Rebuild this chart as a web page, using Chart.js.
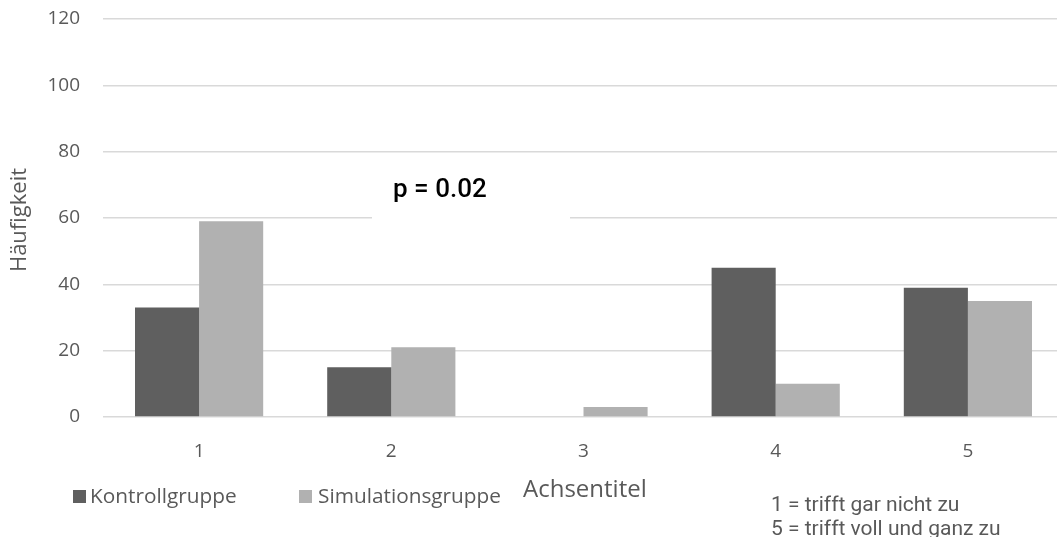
<!DOCTYPE html>
<html>
<head>
<meta charset="utf-8">
<script src="https://cdn.jsdelivr.net/npm/chart.js@4"></script>
<style>
    html, body { margin: 0; padding: 0; background: #fff; overflow: hidden; }
    #wrap { position: relative; width: 1064px; height: 537px; }
</style>
</head>
<body>
<div id="wrap"><canvas id="barChart" width="1064" height="537"></canvas></div>
<script>
// Chart data
const categories = ['1', '2', '3', '4', '5'];
const kontrollgruppe = [33, 15, 0, 45, 39];
const simulationsgruppe = [59, 21, 3, 10, 35];
const yTicks = [0, 20, 40, 60, 80, 100, 120];

const textColor = '#595959';
const gridColor = '#d9d9d9';

// Titles, legend and notes drawn by hand (Excel-style layout)
const overlayPlugin = {
    id: 'overlay',
    afterDraw(chart) {
        const ctx = chart.ctx;
        const ds = chart.data.datasets;
        ctx.save();

        // p-value text box
        ctx.fillStyle = '#ffffff';
        ctx.fillRect(372, 160, 198, 60);
        ctx.fillStyle = '#000000';
        ctx.font = '500 26px Roboto';
        ctx.textBaseline = 'middle';
        ctx.textAlign = 'left';
        ctx.fillText('p = 0.02', 393, 190);

        // y axis title
        ctx.save();
        ctx.translate(20, 220);
        ctx.rotate(-Math.PI / 2);
        ctx.fillStyle = textColor;
        ctx.font = '22px "Open Sans"';
        ctx.textAlign = 'center';
        ctx.fillText('Häufigkeit', 0, 0);
        ctx.restore();

        // x axis title
        ctx.fillStyle = textColor;
        ctx.font = '24px "Open Sans"';
        ctx.fillText('Achsentitel', 523, 490);

        // legend
        const legendItems = [[73, 90], [299, 318]];
        ctx.font = '20.8px "Open Sans"';
        ds.forEach((d, i) => {
            const [bx, tx] = legendItems[i];
            ctx.fillStyle = d.backgroundColor;
            ctx.fillRect(bx, 490, 13, 13);
            ctx.fillStyle = textColor;
            ctx.fillText(d.label, tx, 497);
        });

        // scale note
        ctx.font = '21px Roboto';
        ctx.fillText('1 = trifft gar nicht zu', 771, 506);
        ctx.fillText('5 = trifft voll und ganz zu', 771, 530);

        ctx.restore();
    }
};

const ctx = document.getElementById('barChart').getContext('2d');
new Chart(ctx, {
    type: 'bar',
    data: {
        labels: categories,
        datasets: [
            {
                label: 'Kontrollgruppe',
                data: kontrollgruppe,
                backgroundColor: '#5f5f5f',
                borderWidth: 0
            },
            {
                label: 'Simulationsgruppe',
                data: simulationsgruppe,
                backgroundColor: '#b1b1b1',
                borderWidth: 0
            }
        ]
    },
    options: {
        responsive: false,
        animation: false,
        devicePixelRatio: 1,
        layout: { padding: { top: 19, left: 0, right: 0, bottom: 0 } },
        datasets: {
            bar: { categoryPercentage: 0.667, barPercentage: 1.0 }
        },
        scales: {
            x: {
                grid: { display: false },
                border: { display: false },
                ticks: {
                    color: textColor,
                    font: { family: 'Open Sans', size: 19 },
                    padding: 15
                },
                afterFit: (scale) => {
                    scale.height = 120;
                    scale.paddingLeft = 0;
                    scale.paddingRight = 0;
                }
            },
            y: {
                min: 0,
                max: 120,
                afterBuildTicks: (scale) => {
                    scale.ticks = yTicks.map(v => ({ value: v }));
                },
                grid: {
                    color: gridColor,
                    lineWidth: 1.5,
                    drawTicks: false
                },
                border: { display: false },
                ticks: {
                    color: textColor,
                    font: { family: 'Open Sans', size: 19 },
                    padding: 23
                },
                afterFit: (scale) => {
                    scale.width = 103;
                    scale.paddingTop = 0;
                    scale.paddingBottom = 0;
                }
            }
        },
        plugins: {
            legend: { display: false },
            tooltip: { enabled: false }
        }
    },
    plugins: [overlayPlugin]
});
</script>
</body>
</html>
